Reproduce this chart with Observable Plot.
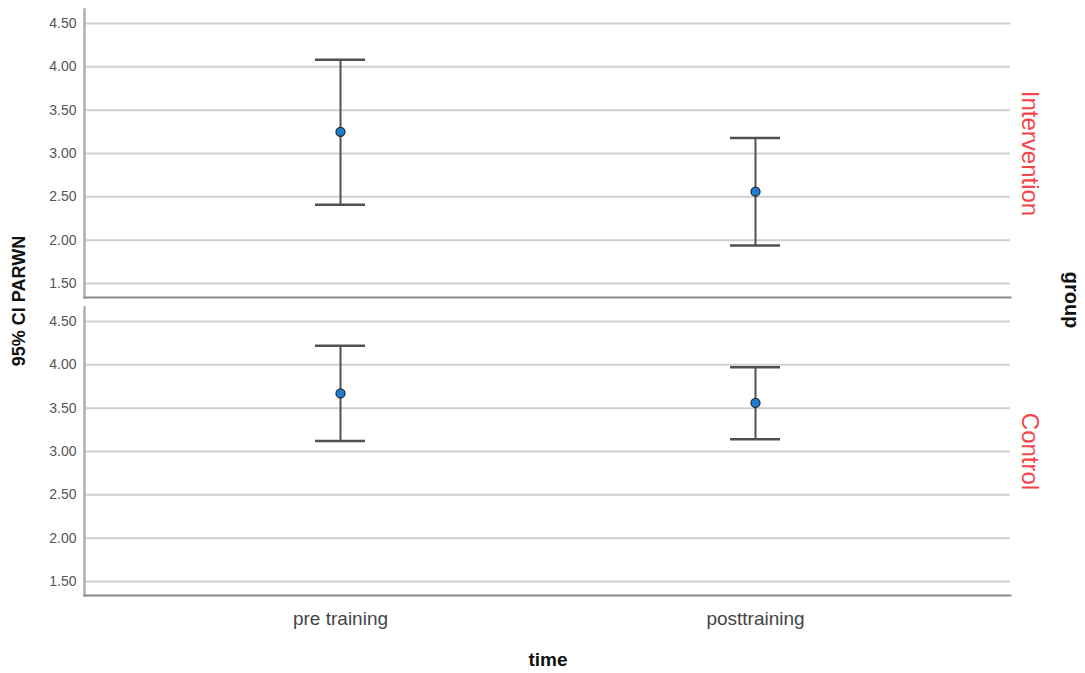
<!DOCTYPE html>
<html>
<head>
<meta charset="utf-8">
<script src="https://cdn.jsdelivr.net/npm/d3@7"></script>
<script src="https://cdn.jsdelivr.net/npm/@observablehq/plot@0.6"></script>
<style>
  html, body { margin: 0; padding: 0; background: #fff; }
  #wrap { position: relative; width: 1085px; height: 673px; font-family: "Liberation Sans", Arial, sans-serif; }
  .lbl { position: absolute; white-space: nowrap; font-weight: bold; color: #111; }
</style>
</head>
<body>
<div id="wrap"></div>
<script>
// ---- data ----
const groups = ["Intervention", "Control"];
const times = ["pre training", "posttraining"];
const interventionMean = [3.25, 2.56];
const interventionLow  = [2.41, 1.94];
const interventionHigh = [4.08, 3.18];
const controlMean = [3.67, 3.56];
const controlLow  = [3.12, 3.14];
const controlHigh = [4.22, 3.97];
const yTicks = [1.5, 2.0, 2.5, 3.0, 3.5, 4.0, 4.5];
const yDomain = [1.34, 4.66];

const rows = [];
times.forEach((t, i) => {
  rows.push({group: "Intervention", time: t, mean: interventionMean[i], low: interventionLow[i], high: interventionHigh[i]});
  rows.push({group: "Control", time: t, mean: controlMean[i], low: controlLow[i], high: controlHigh[i]});
});

const chart = Plot.plot({
  width: 1085,
  height: 673,
  marginLeft: 84,
  marginRight: 75,
  marginTop: 8,
  marginBottom: 77,
  style: {fontFamily: "'Liberation Sans', Arial, sans-serif", background: "white", overflow: "visible"},
  x: {type: "band", domain: times, paddingInner: 0.88, paddingOuter: 0.553, label: null},
  y: {domain: yDomain, label: null},
  fy: {domain: groups, paddingInner: 0.0334, paddingOuter: 0, axis: null, label: null},
  marks: [
    Plot.ruleY(yTicks, {y: d => d, stroke: "#cfcfcf", strokeWidth: 2}),
    Plot.frame({anchor: "left", stroke: "#b0b0b0", strokeWidth: 2.5}),
    Plot.frame({anchor: "bottom", stroke: "#8a8a8a", strokeWidth: 2}),
    Plot.axisY({ticks: yTicks, tickSize: 0, tickPadding: 8, tickFormat: d3.format(".2f"), fontSize: 14, color: "#555", label: null}),
    Plot.axisX({tickSize: 0, tickPadding: 16, fontSize: 19, color: "#444", label: null}),
    Plot.ruleX(rows, {x: "time", fy: "group", y1: "low", y2: "high", stroke: "#505050", strokeWidth: 2}),
    Plot.tickY(rows, {x: "time", fy: "group", y: "low", stroke: "#505050", strokeWidth: 2.5}),
    Plot.tickY(rows, {x: "time", fy: "group", y: "high", stroke: "#505050", strokeWidth: 2.5}),
    Plot.dot(rows, {x: "time", fy: "group", y: "mean", r: 4.5, fill: "#1a7fd4", stroke: "#2a2a2a", strokeWidth: 1.3}),
    Plot.text(groups, {fy: d => d, text: d => d, frameAnchor: "right", textAnchor: "middle", lineAnchor: "middle", dx: 19, rotate: 90, fill: "#f2464c", fontSize: 24})
  ]
});

const wrap = document.getElementById("wrap");
wrap.appendChild(chart);

function addLabel(text, cx, cy, rot, size) {
  const s = document.createElement("div");
  s.className = "lbl";
  s.textContent = text;
  s.style.fontSize = size + "px";
  s.style.left = cx + "px";
  s.style.top = cy + "px";
  s.style.transform = "translate(-50%, -50%)" + (rot ? " rotate(" + rot + "deg)" : "");
  wrap.appendChild(s);
}
addLabel("95% CI PARWN", 19, 301, -90, 18);
addLabel("group", 1071, 300, 90, 20);
addLabel("time", 548, 660, 0, 19);
</script>
</body>
</html>
